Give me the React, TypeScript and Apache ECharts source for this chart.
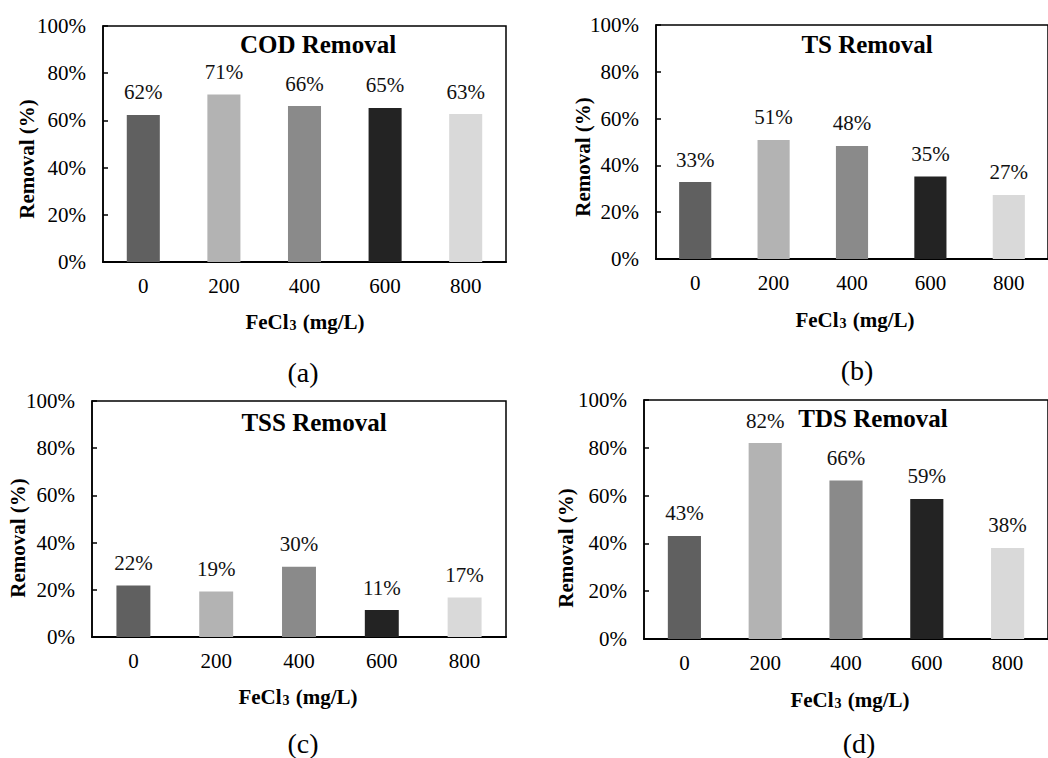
import React, { useEffect, useRef } from "react";
import * as echarts from "echarts";

const categories = ["0", "200", "400", "600", "800"];
const codRemoval = [62.3, 71.0, 66.1, 65.3, 62.7];
const tsRemoval = [32.9, 50.9, 48.3, 35.3, 27.4];
const tssRemoval = [21.8, 19.3, 29.8, 11.4, 16.7];
const tdsRemoval = [43.1, 82.0, 66.3, 58.6, 38.1];
const yMin = 0;
const yMax = 100;
const yInterval = 20;
const barColors = ["#606060", "#b3b3b3", "#8a8a8a", "#232323", "#d9d9d9"];
const panelTitles = ["COD Removal", "TS Removal", "TSS Removal", "TDS Removal"];
const panelLetters = ["(a)", "(b)", "(c)", "(d)"];
const yAxisName = "Removal (%)";

const FONT = "Liberation Serif";

// layout of each panel (pixels)
const panels = [
  { data: codRemoval, grid: { left: 103, top: 26, width: 403, height: 236 }, title: [318, 44], yName: [27, 159], xName: [305, 320], letter: [303, 372] },
  { data: tsRemoval, grid: { left: 656, top: 25, width: 398, height: 234 }, title: [867, 44], yName: [583, 157], xName: [855, 318], letter: [857, 370] },
  { data: tssRemoval, grid: { left: 92, top: 401, width: 414, height: 236 }, title: [314, 422], yName: [18, 538], xName: [298, 695], letter: [303, 743] },
  { data: tdsRemoval, grid: { left: 644, top: 400, width: 410, height: 239 }, title: [873, 418], yName: [566, 548], xName: [850, 698], letter: [859, 743] },
];

export default function App() {
  const ref = useRef<HTMLDivElement>(null);
  useEffect(() => {
    if (!ref.current) return;
    const chart = echarts.init(ref.current, undefined, { renderer: "svg" });
    const grid: any[] = [];
    const xAxis: any[] = [];
    const yAxis: any[] = [];
    const series: any[] = [];
    const graphic: any[] = [];
    panels.forEach((p, i) => {
      grid.push({ ...p.grid, show: true, borderColor: "#000", borderWidth: 1.5, backgroundColor: "transparent" });
      xAxis.push({
        type: "category",
        gridIndex: i,
        data: categories,
        axisLine: { lineStyle: { color: "#000", width: 2 } },
        axisTick: { show: false },
        axisLabel: { color: "#000", fontSize: 21, fontFamily: FONT, margin: 13 },
        splitLine: { show: false },
      });
      yAxis.push({
        type: "value",
        gridIndex: i,
        min: yMin,
        max: yMax,
        interval: yInterval,
        axisLine: { show: true, lineStyle: { color: "#000", width: 1.5 } },
        axisTick: { show: true, inside: true, length: 5, lineStyle: { color: "#000", width: 1.5 } },
        axisLabel: { color: "#000", fontSize: 21, fontFamily: FONT, margin: 17, formatter: "{value}%" },
        splitLine: { show: false },
      });
      series.push({
        type: "bar",
        xAxisIndex: i,
        yAxisIndex: i,
        barWidth: "41%",
        data: p.data.map((v, j) => ({ value: v, itemStyle: { color: barColors[j] } })),
        label: {
          show: true,
          position: "top",
          distance: 12,
          color: "#111",
          fontSize: 21,
          fontFamily: FONT,
          formatter: (d: any) => Math.round(d.value) + "%",
        },
      });
      graphic.push({
        type: "text",
        x: p.title[0],
        y: p.title[1],
        style: { text: panelTitles[i], font: `bold 25px '${FONT}'`, fill: "#000", align: "center", verticalAlign: "middle" },
      });
      graphic.push({
        type: "text",
        x: p.yName[0],
        y: p.yName[1],
        rotation: Math.PI / 2,
        style: { text: yAxisName, font: `bold 21px '${FONT}'`, fill: "#000", align: "center", verticalAlign: "middle" },
      });
      graphic.push({
        type: "text",
        x: p.xName[0],
        y: p.xName[1],
        style: {
          text: "{b|FeCl}{s|3}{b| (mg/L)}",
          align: "center",
          verticalAlign: "middle",
          fill: "#000",
          font: `bold 21px '${FONT}'`,
          rich: {
            b: { font: `bold 21px '${FONT}'`, fontSize: 21, fontWeight: "bold", fontFamily: FONT, fill: "#000", verticalAlign: "bottom" },
            s: { font: `bold 14px '${FONT}'`, fontSize: 14, fontWeight: "bold", fontFamily: FONT, fill: "#000", verticalAlign: "bottom", padding: [10, 1, 0, 1] },
          },
        },
      });
      graphic.push({
        type: "text",
        x: p.letter[0],
        y: p.letter[1],
        style: { text: panelLetters[i], font: `28px '${FONT}'`, fill: "#000", align: "center", verticalAlign: "middle" },
      });
    });
    chart.setOption({
      animation: false,
      backgroundColor: "#fff",
      grid,
      xAxis,
      yAxis,
      series,
      graphic,
    });
    return () => chart.dispose();
  }, []);
  return <div ref={ref} style={{ position: "fixed", left: 0, top: 0, width: 1048, height: 758, background: "#fff" }} />;
}
